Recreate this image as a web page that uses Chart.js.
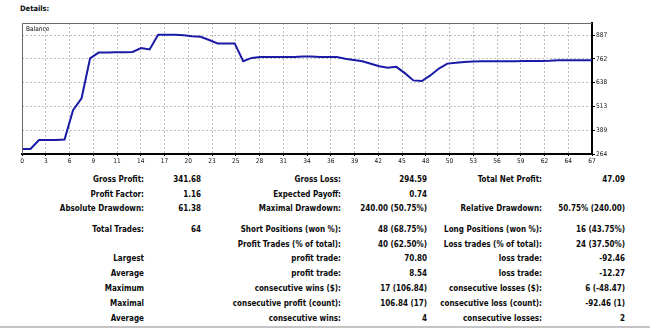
<!DOCTYPE html>
<html>
<head>
<meta charset="utf-8">
<title>Details</title>
<script src="https://cdn.jsdelivr.net/npm/chart.js@4/dist/chart.umd.min.js"></script>
<style>
  html, body { margin: 0; padding: 0; background: #fff; }
  body {
    width: 650px; height: 329px; position: relative; overflow: hidden;
    font-family: "DejaVu Sans Condensed", "DejaVu Sans", sans-serif;
    font-stretch: condensed; color: #0a0a0a;
  }
  #title { position: absolute; left: 20px; top: 4px; font-weight: bold; font-size: 7.5px; line-height: 10px; }
  #chartBox { position: absolute; left: 0; top: 0; width: 650px; height: 170px; }
  #balanceLabel { position: absolute; left: 26px; top: 25px; font-size: 6.5px; line-height: 8px; }
  .cell { position: absolute; left: 0; font-weight: bold; font-size: 8px; line-height: 10px; text-align: right; white-space: nowrap; }
  #rule { position: absolute; left: 0; top: 326px; width: 650px; height: 2px; background: #c4c4c4; }
</style>
</head>
<body>
<div id="title">Details:</div>
<div id="chartBox"><canvas id="balanceChart" width="650" height="170"></canvas></div>
<div id="balanceLabel">Balance</div>
<div id="stats"></div>
<div id="rule"></div>

<script>
// balance after each trade (trade number = index)
const balance = [
  290, 290, 337, 337, 337, 340, 494, 556, 765, 796,
  796, 797, 797, 799, 820, 812, 889, 889, 889, 887,
  882, 879, 862, 844, 844, 844, 751, 768, 773, 773,
  773, 773, 773, 775, 775, 773, 773, 773, 764, 757,
  750, 737, 724, 716, 721, 688, 650, 647, 676, 712,
  738, 742, 747, 749, 750, 751, 751, 751, 751, 752,
  752, 752, 753, 756, 756, 756, 756, 756
];

const xTickLabels = ['0', '3', '6', '9', '11', '14', '17', '20', '23', '25', '28', '31', '34',
  '36', '39', '42', '45', '48', '50', '53', '56', '59', '62', '64', '67'];
const yTickLabels = ['264', '389', '513', '638', '762', '887'];

const xMax = 67;
const yMin = 264;
const yStep = 124.6;
const yMax = 951;

const statRows = [
  ['Gross Profit:', '341.68', 'Gross Loss:', '294.59', 'Total Net Profit:', '47.09'],
  ['Profit Factor:', '1.16', 'Expected Payoff:', '0.74', '', ''],
  ['Absolute Drawdown:', '61.38', 'Maximal Drawdown:', '240.00 (50.75%)', 'Relative Drawdown:', '50.75% (240.00)'],
  ['Total Trades:', '64', 'Short Positions (won %):', '48 (68.75%)', 'Long Positions (won %):', '16 (43.75%)'],
  ['', '', 'Profit Trades (% of total):', '40 (62.50%)', 'Loss trades (% of total):', '24 (37.50%)'],
  ['Largest', '', 'profit trade:', '70.80', 'loss trade:', '-92.46'],
  ['Average', '', 'profit trade:', '8.54', 'loss trade:', '-12.27'],
  ['Maximum', '', 'consecutive wins ($):', '17 (106.84)', 'consecutive losses ($):', '6 (-48.47)'],
  ['Maximal', '', 'consecutive profit (count):', '106.84 (17)', 'consecutive loss (count):', '-92.46 (1)'],
  ['Average', '', 'consecutive wins:', '4', 'consecutive losses:', '2']
];

// table layout: row centres and right edge of each column
const rowY = [180, 194.5, 209.3, 229.5, 244.5, 259.3, 274, 289, 303.5, 318.5];
const colRight = [144, 201, 341, 427, 542, 625];

const stats = document.getElementById('stats');
statRows.forEach((row, r) => {
  row.forEach((text, c) => {
    if (!text) return;
    const el = document.createElement('div');
    el.className = 'cell';
    el.style.top = (rowY[r] - 5) + 'px';
    el.style.width = colRight[c] + 'px';
    el.textContent = text;
    stats.appendChild(el);
  });
});

Chart.defaults.font.family = '"DejaVu Sans Condensed", "DejaVu Sans", sans-serif';
Chart.defaults.color = '#111';

// grey top/left edges of the plot frame (bottom/right come from the axes)
const frameEdges = {
  id: 'frameEdges',
  afterDraw(chart) {
    const { ctx, chartArea: a } = chart;
    ctx.save();
    ctx.strokeStyle = '#6a6a6a';
    ctx.lineWidth = 1;
    ctx.beginPath();
    ctx.moveTo(Math.round(a.left) + 0.5, a.bottom);
    ctx.lineTo(Math.round(a.left) + 0.5, Math.round(a.top) + 0.5);
    ctx.lineTo(a.right, Math.round(a.top) + 0.5);
    ctx.stroke();
    ctx.restore();
  }
};

const ctx = document.getElementById('balanceChart').getContext('2d');
new Chart(ctx, {
  type: 'line',
  data: {
    datasets: [{
      label: 'Balance',
      data: balance.map((v, i) => ({ x: i, y: v })),
      borderColor: '#1a1aa6',
      borderWidth: 2,
      pointRadius: 0,
      tension: 0,
      fill: false
    }]
  },
  options: {
    responsive: false,
    animation: false,
    devicePixelRatio: 1,
    layout: { padding: { left: 22, top: 23, right: 0, bottom: 0 } },
    plugins: { legend: { display: false }, tooltip: { enabled: false } },
    scales: {
      x: {
        type: 'linear',
        position: 'bottom',
        min: 0,
        max: xMax,
        afterBuildTicks(axis) {
          axis.ticks = xTickLabels.map((_, k) => ({ value: k * xMax / (xTickLabels.length - 1) }));
        },
        afterFit(axis) { axis.height = 16; },
        grid: { color: '#bdbdbd', lineWidth: 1, tickLength: 2, tickColor: '#000' },
        border: { color: '#000', width: 2, dash: [2, 2] },
        ticks: {
          autoSkip: false,
          maxRotation: 0,
          padding: 1,
          font: { size: 6.5 },
          callback: (v, i) => xTickLabels[i]
        }
      },
      y: {
        position: 'right',
        min: yMin,
        max: yMax,
        afterBuildTicks(axis) {
          axis.ticks = yTickLabels.map((_, k) => ({ value: yMin + k * yStep }));
        },
        afterFit(axis) { axis.width = 58; },
        grid: { color: '#bdbdbd', lineWidth: 1, tickLength: 3, tickColor: '#000' },
        border: { color: '#000', width: 2, dash: [2, 2] },
        ticks: {
          padding: 1,
          font: { size: 6.5 },
          callback: (v, i) => yTickLabels[i]
        }
      }
    }
  },
  plugins: [frameEdges]
});
</script>
</body>
</html>
